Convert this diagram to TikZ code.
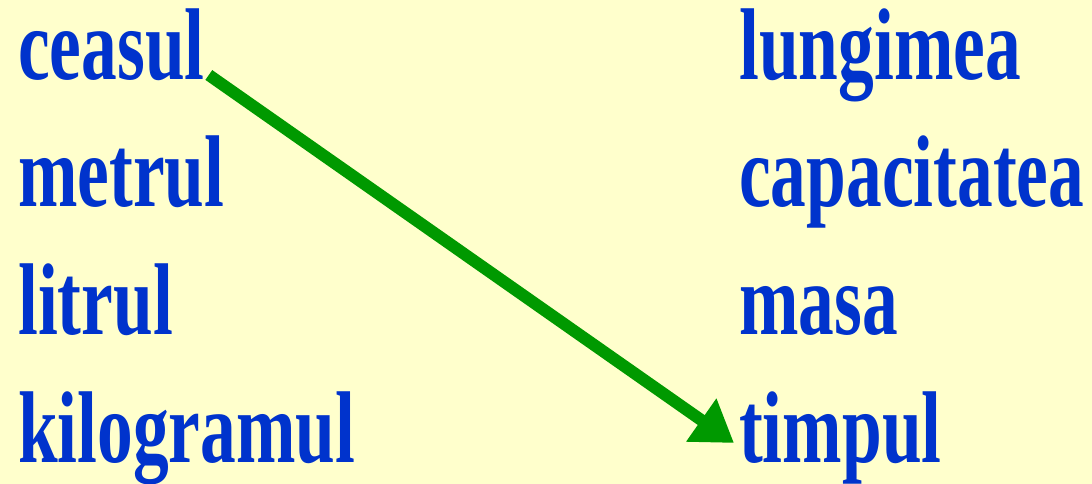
\documentclass[tikz,border=0pt]{standalone}
\usepackage{fontspec}
\setmainfont{Liberation Serif}
\usetikzlibrary{arrows.meta,calc}
\definecolor{bgyellow}{HTML}{FFFFCC}
\definecolor{wordblue}{HTML}{0033CC}
\definecolor{arrowgreen}{HTML}{009900}
\newcommand{\wordtext}[1]{\scalebox{0.70}[1]{\fontsize{102}{108}\selectfont\bfseries #1}}
\begin{document}
\begin{tikzpicture}[x=1pt,y=1pt,
  word/.style={anchor=base west,inner sep=0pt,text=wordblue,font=\bfseries,
    text height=70pt,text depth=20pt},
  link/.style={draw=arrowgreen,line width=12pt,line cap=butt,
    -{Triangle[length=40pt,width=50pt]}}]
\path[fill=bgyellow,use as bounding box] (0,0) rectangle (1092,484);
\node[word] (ceasul) at (18,404) {\wordtext{ceasul}};
\node[word] (metrul) at (18,277) {\wordtext{metrul}};
\node[word] (litrul) at (18,149) {\wordtext{litrul}};
\node[word] (kilogramul) at (18,21) {\wordtext{kilogramul}};
\node[word] (lungimea) at (739,404) {\wordtext{lungimea}};
\node[word] (capacitatea) at (739,277) {\wordtext{capacitatea}};
\node[word] (masa) at (739,149) {\wordtext{masa}};
\node[word] (timpul) at (739,21) {\wordtext{timpul}};
\coordinate (from) at ($(ceasul.base east)+(4,5)$);
\coordinate (to) at ($(timpul.base west)+(-5,20)$);
\draw[link] (from) -- (to);
\end{tikzpicture}
\end{document}
